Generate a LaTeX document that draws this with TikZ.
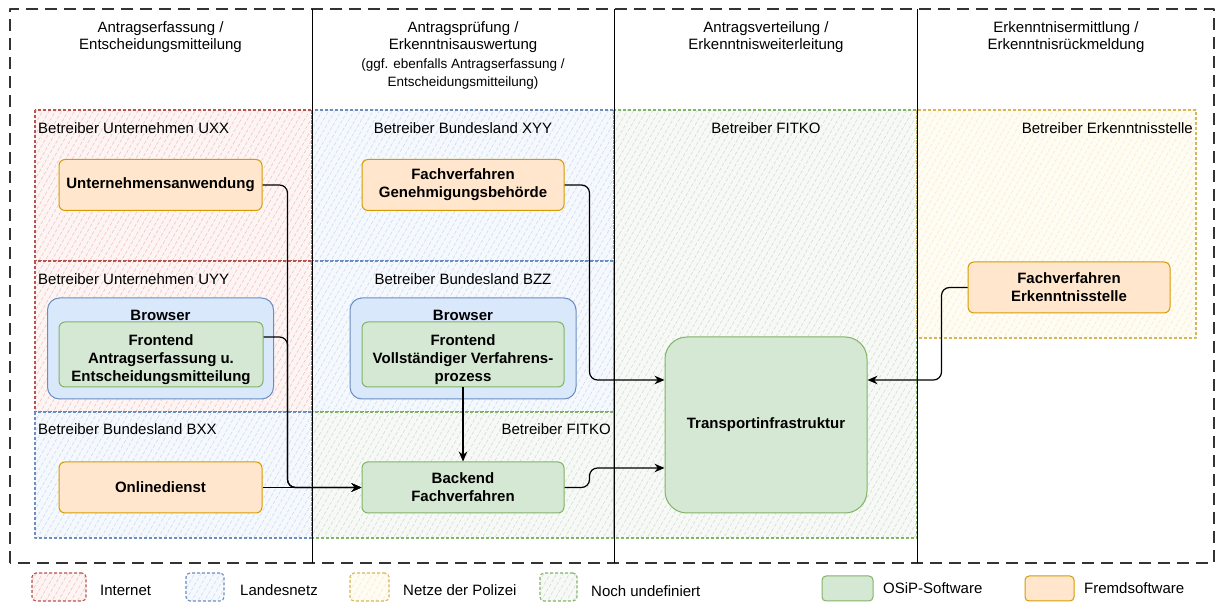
\documentclass[tikz,border=0pt]{standalone}
\usepackage{fontspec}
\setmainfont{Liberation Sans}
\usetikzlibrary{arrows.meta,patterns.meta}
\definecolor{redline}{HTML}{B85450}
\definecolor{redhatch}{HTML}{F3C3C1}
\definecolor{redfill}{HTML}{FDF4F4}
\definecolor{blueline}{HTML}{6C8EBF}
\definecolor{bluehatch}{HTML}{CCDCF0}
\definecolor{bluefill}{HTML}{F5F8FD}
\definecolor{greenline}{HTML}{82B366}
\definecolor{greenhatch}{HTML}{D3DDD0}
\definecolor{greenfill}{HTML}{F6F9F5}
\definecolor{yellowline}{HTML}{D6B656}
\definecolor{yellowhatch}{HTML}{F7EBC8}
\definecolor{yellowfill}{HTML}{FFFCF3}
\definecolor{osipfill}{HTML}{D5E8D4}
\definecolor{fremdfill}{HTML}{FFE6CC}
\definecolor{fremdline}{HTML}{D79B00}
\definecolor{browserfill}{HTML}{DAE8FC}
\definecolor{framegray}{HTML}{333333}
\newcommand\txtfont{\fontsize{15bp}{18bp}\selectfont}
\newcommand\lowtext[1]{\raisebox{-5.5bp}[\height][\depth]{\begin{tabular}{@{}c@{}}#1\end{tabular}}}
\begin{document}
\begin{tikzpicture}[>={Stealth[length=10bp,width=8.5bp]},line join=bevel,
  zone/.style={line width=1.1bp,dash pattern=on 3bp off 2bp,pattern={Lines[angle=60,distance=5.5bp,line width=0.6bp]}},
  zonered/.style={zone,draw=redline,pattern color=redhatch,preaction={fill=redfill}},
  zoneblue/.style={zone,draw=blueline,pattern color=bluehatch,preaction={fill=bluefill}},
  zonegreen/.style={zone,draw=greenline,pattern color=greenhatch,preaction={fill=greenfill}},
  zoneyellow/.style={zone,draw=yellowline,pattern color=yellowhatch,preaction={fill=yellowfill}},
  lbl/.style={font=\txtfont,inner sep=0bp},
  hdr/.style={font=\fontsize{15bp}{17.5bp}\selectfont,align=center,inner sep=0bp},
  box/.style={line width=1bp,rounded corners=6bp,minimum width=203bp,minimum height=51bp,font=\txtfont\bfseries,align=center,inner sep=2bp},
  fremd/.style={box,draw=fremdline,fill=fremdfill},
  osip/.style={box,draw=greenline,fill=osipfill},
  browserbox/.style={box,draw=blueline,fill=browserfill,rounded corners=12bp,minimum width=226bp,minimum height=101bp},
  flow/.style={black,->,line width=1.2bp,rounded corners=8bp},
]
\useasboundingbox (0bp,0bp) rectangle (1219bp,603bp);
%%
\draw [zonered] (35bp,493bp) rectangle (312bp,342bp);
\draw [zonered] (35bp,342bp) rectangle (312bp,191bp);
\draw [zoneblue] (35bp,191bp) rectangle (312bp,65bp);
\draw [zoneblue] (312bp,493bp) rectangle (614bp,342bp);
\draw [zoneblue] (312bp,342bp) rectangle (614bp,191bp);
\draw [zonegreen] (312bp,191bp) rectangle (614bp,65bp);
\draw [zonegreen] (614bp,493bp) rectangle (917bp,65bp);
\draw [zoneyellow] (917bp,493bp) rectangle (1196bp,265bp);
%
\draw [framegray,line width=1.3bp,dash pattern=on 12bp off 7bp] (10bp,40bp) rectangle (1214bp,594bp);
\foreach \x in {312,614,917}
  \draw [black,line width=0.9bp] (\x bp,40bp) -- (\x bp,594bp);
%
\node (node_hdr1) at (160.5bp,566bp) [hdr] {Antragserfassung /\\Entscheidungsmitteilung};
\node (node_hdr2) at (463bp,566bp) [hdr] {Antragsprüfung /\\Erkenntnisauswertung};
\node (node_hdr2b) at (463bp,529bp) [hdr,font=\fontsize{13.5bp}{18.5bp}\selectfont] {(ggf. ebenfalls Antragserfassung /\\Entscheidungsmitteilung)};
\node (node_hdr3) at (766bp,566bp) [hdr] {Antragsverteilung /\\Erkenntnisweiterleitung};
\node (node_hdr4) at (1066bp,566bp) [hdr] {Erkenntnisermittlung /\\Erkenntnisrückmeldung};
%
\node (node_uxx) at (38bp,475bp) [lbl,anchor=west] {Betreiber Unternehmen UXX};
\node (node_uyy) at (38bp,324bp) [lbl,anchor=west] {Betreiber Unternehmen UYY};
\node (node_bxx) at (38bp,174bp) [lbl,anchor=west] {Betreiber Bundesland BXX};
\node (node_xyy) at (463bp,475bp) [lbl] {Betreiber Bundesland XYY};
\node (node_bzz) at (463bp,324bp) [lbl] {Betreiber Bundesland BZZ};
\node (node_fitko_a) at (611bp,174bp) [lbl,anchor=east] {Betreiber FITKO};
\node (node_fitko_b) at (766bp,475bp) [lbl] {Betreiber FITKO};
\node (node_erk) at (1193bp,475bp) [lbl,anchor=east] {Betreiber Erkenntnisstelle};
%
\node (node_ua) at (160.5bp,418bp) [fremd] {Unternehmensanwendung};
\node (node_fg) at (463bp,418bp) [fremd,minimum width=202bp] {Fachverfahren\\Genehmigungsbehörde};
\node (node_browser_u) at (160.5bp,254.5bp) [browserbox,label={[font=\txtfont\bfseries,anchor=center,yshift=-18bp]north:Browser}] {};
\node (node_frontend_u) at (161bp,248.5bp) [osip,minimum width=204bp,minimum height=65bp] {\lowtext{Frontend\\Antragserfassung u.\\Entscheidungsmitteilung}};
\node (node_browser_b) at (463bp,254.5bp) [browserbox,label={[font=\txtfont\bfseries,anchor=center,yshift=-18bp]north:Browser}] {};
\node (node_frontend_b) at (463bp,248.5bp) [osip,minimum width=202bp,minimum height=65bp] {\lowtext{Frontend\\Vollständiger Verfahrens-\\prozess}};
\node (node_online) at (160.5bp,115.5bp) [fremd] {Onlinedienst};
\node (node_backend) at (463bp,115.5bp) [osip,minimum width=202bp] {Backend\\Fachverfahren};
\node (node_transport) at (766bp,178bp) [osip,rounded corners=22bp,minimum width=202bp,minimum height=176bp] {Transportinfrastruktur};
\node (node_fe) at (1069bp,315.5bp) [fremd,minimum width=202bp] {Fachverfahren\\Erkenntnisstelle};
%
\draw [flow] (node_ua.east) -- ++(25bp,0bp) |- (node_backend.west);
\draw [flow] ([yshift=17.5bp]node_frontend_u.east) -- ++(24bp,0bp) |- (node_backend.west);
\draw [flow] (node_online) -- (node_backend);
\draw [flow] (node_frontend_b) -- (node_backend);
\draw [flow] (node_fg.east) -- ++(25bp,0bp) |- ([yshift=45bp]node_transport.west);
\draw [flow] (node_backend.east) -- ++(25bp,0bp) |- ([yshift=-43bp]node_transport.west);
\draw [flow] (node_fe.west) -- ++(-26bp,0bp) |- ([yshift=45bp]node_transport.east);
%
\node (node_leg_red) at (59bp,16bp) [zonered,minimum width=54bp,minimum height=28bp,rounded corners=4bp] {};
\node (node_leg_internet) at (100bp,13bp) [lbl,anchor=west] {Internet};
\node (node_leg_blue) at (205bp,16bp) [zoneblue,minimum width=38bp,minimum height=28bp,rounded corners=4bp] {};
\node (node_leg_landesnetz) at (240bp,13bp) [lbl,anchor=west] {Landesnetz};
\node (node_leg_yellow) at (369.5bp,16bp) [zoneyellow,minimum width=39bp,minimum height=28bp,rounded corners=4bp] {};
\node (node_leg_polizei) at (403bp,13bp) [lbl,anchor=west] {Netze der Polizei};
\node (node_leg_green) at (558.5bp,16bp) [zonegreen,minimum width=37bp,minimum height=28bp,rounded corners=4bp] {};
\node (node_leg_undef) at (591bp,12bp) [lbl,anchor=west] {Noch undefiniert};
\node (node_leg_osip) at (847.5bp,14.5bp) [osip,minimum width=51bp,minimum height=25bp,rounded corners=4bp] {};
\node (node_leg_osiptext) at (883bp,15bp) [lbl,anchor=west] {OSiP-Software};
\node (node_leg_fremd) at (1049.5bp,14.5bp) [fremd,minimum width=49bp,minimum height=25bp,rounded corners=4bp] {};
\node (node_leg_fremdtext) at (1084bp,15bp) [lbl,anchor=west] {Fremdsoftware};
%
\end{tikzpicture}
\end{document}
